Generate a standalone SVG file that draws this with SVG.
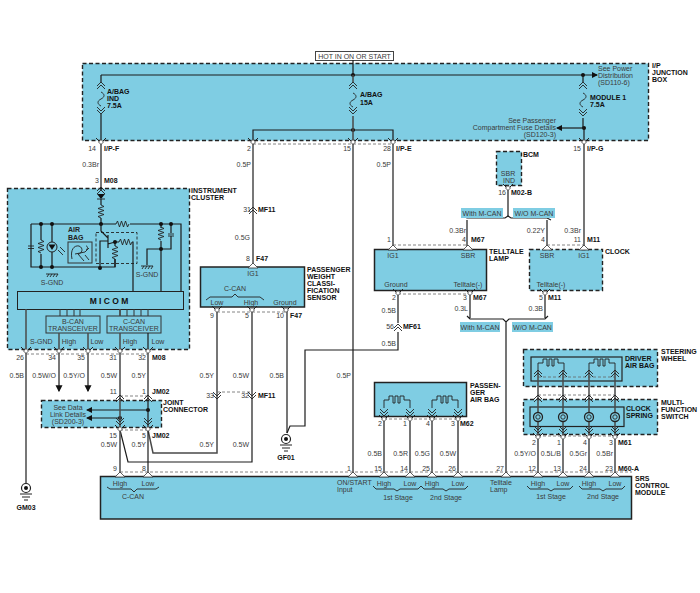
<svg xmlns="http://www.w3.org/2000/svg" width="700" height="593" viewBox="0 0 700 593">
<style>
text{font-family:"Liberation Sans",Arial,sans-serif;font-size:7px;fill:#3a3a3a}
.b{font-weight:bold;fill:#111}
.e{text-anchor:end}
.m{text-anchor:middle}
.box{fill:#7fcde3;stroke:#222;stroke-width:1.5}
.dbox{fill:#7fcde3;stroke:#222;stroke-width:1.4;stroke-dasharray:4 2.5}
.plain{fill:none;stroke:#333;stroke-width:1}
.w{fill:none;stroke:#1c1c1c;stroke-width:1.2}
.g{fill:none;stroke:#4a4a4a;stroke-width:1.5}
.d{fill:none;stroke:#666;stroke-width:.8;stroke-dasharray:3 2}
.sym{fill:none;stroke:#222;stroke-width:.9}
.lab{fill:#7fcde3}
</style>
<defs>
<g id="cu" class="sym"><path d="M-4,2 L0,-2 L4,2 M-4,5 L0,1 L4,5"/></g>
<g id="cd" class="sym"><path d="M-4,-5 L0,-1 L4,-5 M-4,-2 L0,2 L4,-2"/></g>
<g id="pb"><path d="M-5,-3 L0,2 L5,-3" fill="none" stroke="#222" stroke-width="1"/><path d="M-2.500,1 L0,-1.500 L2.500,1 L0,3.500 Z" fill="#fff" stroke="#333" stroke-width=".8"/></g>
<g id="pu"><path d="M-5,1 L0,-4 L5,1 Z" fill="#fff" stroke="#333" stroke-width=".8"/></g>
<path id="fuse" class="sym" d="M0,-7 c4,2 4,5 0,7 c-4,2 -4,5 0,7"/>
<path id="rv" class="sym" d="M0,-7 L3,-5.500 L-3,-3.500 L3,-1.500 L-3,.5 L3,2.500 L-3,4.500 L0,6"/>
<path id="rh" class="sym" d="M-7,0 L-5.500,-3 L-3.500,3 L-1.500,-3 L.5,3 L2.500,-3 L4.500,3 L6,0"/>
<path id="squib" class="sym" d="M0,0 V-8 H5 V-12 H9 V-5 H11 V-12 H14 V-5 H16 V-12 H20 V-8 H26 V0"/>
<circle id="dot" r="2" fill="#111"/>
<path id="sg" class="sym" d="M-6,0 H6 M-5,3 L-3,0 M-2,3 L0,0 M1,3 L3,0 M4,3 L6,0"/>
<g id="ground"><circle r="4.500" fill="#fff" stroke="#222" stroke-width="1.200"/><circle r="2" fill="#111"/><path d="M-6,6 H6 M-4,9 H4 M-2,12 H2" fill="none" stroke="#222" stroke-width="1"/></g>
<g id="coil" class="sym"><circle r="4.500" stroke-width="1.300"/><circle r="2.200"/></g>
<marker id="ar" viewBox="0 0 6 6" refX="5" refY="3" markerWidth="6" markerHeight="6" markerUnits="userSpaceOnUse" orient="auto"><path d="M0,0 L6,3 L0,6 Z" fill="#111"/></marker>
<marker id="arb" viewBox="0 0 6 6" refX="5" refY="3" markerWidth="7" markerHeight="8" markerUnits="userSpaceOnUse" orient="auto"><path d="M0,0 L6,3 L0,6 Z" fill="#111"/></marker>
</defs>

<g id="hot-label">
<rect x="315.500" y="51.500" width="78" height="9" fill="#fff" stroke="#444" stroke-width="1"/>
<text x="354.500" y="58.500" class="m">HOT IN ON OR START</text>
</g>

<g id="ip-junction-box">
<rect x="82.500" y="63.500" width="566" height="77" class="dbox"/>
<path class="w" d="M101,75 H592"/>
<use href="#dot" x="353" y="75"/><use href="#dot" x="583" y="75"/>
<path d="M592,75 H597" class="w" marker-end="url(#ar)"/>
<text x="598" y="70.500">See Power</text><text x="598" y="78">Distribution</text><text x="598" y="85">(SD110-6)</text>
<use href="#cu" x="101" y="84"/><use href="#fuse" x="101" y="99"/><use href="#cd" x="101" y="112"/>
<use href="#cu" x="353" y="84"/><use href="#fuse" x="353" y="100"/><use href="#cd" x="353" y="112"/>
<use href="#cu" x="583" y="84"/><use href="#fuse" x="583" y="100"/><use href="#cd" x="583" y="114"/>
<text x="107" y="93.500" class="b">A/BAG</text><text x="107" y="101" class="b">IND</text><text x="107" y="108" class="b">7.5A</text>
<text x="360" y="97" class="b">A/BAG</text><text x="360" y="104.500" class="b">15A</text>
<text x="590" y="99.500" class="b">MODULE 1</text><text x="590" y="106.500" class="b">7.5A</text>
<use href="#dot" x="584" y="128"/>
<path class="w" d="M584,128 H557" marker-end="url(#ar)"/>
<text x="556" y="123" class="e">See Passenger</text><text x="556" y="130" class="e">Compartment Fuse Details</text><text x="556" y="137" class="e">(SD120-3)</text>
<path class="w" d="M253,140 V130 H393 V140"/>
<use href="#dot" x="353" y="130"/>
<text x="652" y="67.500" class="b">I/P</text><text x="652" y="74.500" class="b">JUNCTION</text><text x="652" y="81.500" class="b">BOX</text>
</g>

<g id="instrument-cluster">
<rect x="7.500" y="188.500" width="182" height="161" class="dbox"/>
<path d="M97,194 H105 L101,199 Z" fill="#111"/><path class="sym" d="M97,199 H105"/>
<use href="#rv" x="101" y="212"/>
<path class="w" d="M101,199 V205 M101,218 V224 M31,224 H116 M130,224 H181 V291 M31,224 V267 H115 V259 M161,224 V228 M161,241 V291 M171,224 V233 M171,236 V249 H147 V265"/>
<use href="#rh" x="123" y="224"/>
<path class="sym" d="M28,246 H34 M28,248.500 H34"/>
<use href="#rv" x="41" y="247"/><path class="w" d="M41,224 V240 M41,254 V267 M52,224 V242 M52,252 V267"/>
<circle cx="52" cy="247" r="5" fill="none" stroke="#222"/><path d="M48.500,244.500 H55.500 L52,250 Z" fill="#111"/><path class="sym" d="M58,250 L63,255 M60,247 L65,252"/>
<use href="#rv" x="161" y="234"/><path class="sym" d="M168,234 H174 M168,236 H174"/>
<use href="#dot" x="41" y="224"/><use href="#dot" x="52" y="224"/><use href="#dot" x="101" y="224"/><use href="#dot" x="161" y="224"/><use href="#dot" x="171" y="224"/>
<use href="#dot" x="41" y="267"/><use href="#dot" x="52" y="267"/><use href="#dot" x="100" y="268"/><use href="#dot" x="161" y="249"/>
<use href="#sg" x="52" y="274"/><text x="52" y="285" class="m">S-GND</text>
<use href="#sg" x="147" y="266"/><text x="147" y="277" class="m">S-GND</text>
<text x="68" y="232" style="font-weight:bold;fill:#222">AIR</text><text x="68" y="239.500" style="font-weight:bold;fill:#222">BAG</text>
<rect x="68" y="242" width="24" height="21" fill="none" stroke="#333" stroke-width="1"/>
<path class="sym" d="M72,259 C70,250 74,245 79,246 C84,248 82,254 78,254 L84,261 M75,254 L85,252 L89,248 M86,246 C88,246 88,249 86,250 M85,255 L89,260"/>
<rect x="96" y="232.500" width="41" height="31" fill="none" stroke="#222" stroke-width=".9" stroke-dasharray="3 2"/>
<path class="w" d="M108,235 V248 M101,224 V231 L108,238 M108,244 L115,242 M108,241 H100 V268 M115,242 H119 M115,242 V246 M115,259 V267"/>
<use href="#dot" x="115" y="242"/>
<use href="#rv" x="115" y="253"/><use href="#rh" x="126" y="242"/>
<path class="w" d="M132,242 H133 V291"/>
<rect x="17.500" y="291.500" width="166" height="18" fill="#7fcde3" stroke="#222" stroke-width="1"/>
<text x="109" y="304" class="m" style="font-size:8.500px;font-weight:bold;fill:#111">M I C O M</text>
<path class="plain" d="M60,309 V316 M67,309 V316 M74,309 V316 M80,309 V316 M120,309 V316 M127,309 V316 M134,309 V316 M141,309 V316 M148,309 V316"/>
<rect x="46" y="316" width="54" height="17" fill="none" stroke="#333"/>
<rect x="107" y="316" width="54" height="17" fill="none" stroke="#333"/>
<text x="73" y="323.500" class="m">B-CAN</text><text x="73" y="331" class="m">TRANSCEIVER</text>
<text x="134" y="323.500" class="m">C-CAN</text><text x="134" y="331" class="m">TRANSCEIVER</text>
<text x="30" y="343.500">S-GND</text><text x="69" y="343.500" class="m">High</text><text x="97" y="343.500" class="m">Low</text><text x="130" y="343.500" class="m">High</text><text x="158" y="343.500" class="m">Low</text>
<text x="191" y="192.500" class="b">INSTRUMENT</text><text x="191" y="199.500" class="b">CLUSTER</text>
</g>

<g id="joint-connector">
<rect x="41.500" y="400.500" width="120" height="27" class="dbox"/>
<text x="68" y="409.500" class="m">See Data</text><text x="68" y="416.500" class="m">Link Details</text><text x="68" y="423.500" class="m">(SD200-3)</text>
<use href="#dot" x="148" y="410"/><use href="#dot" x="120" y="418"/>
<path class="w" d="M148,410 H87" marker-end="url(#ar)"/><path class="w" d="M120,418 H87" marker-end="url(#ar)"/>
<text x="163" y="404.500" class="b">JOINT</text><text x="163" y="412" class="b">CONNECTOR</text>
</g>

<g id="passenger-weight-sensor">
<rect x="200.500" y="267" width="104" height="40" class="box"/>
<text x="253" y="275.500" class="m">IG1</text><text x="235" y="291" class="m">C-CAN</text>
<path class="sym" d="M206,300 L210,297 H232 L235,294 L238,297 H260 L264,300"/>
<text x="217" y="304.500" class="m">Low</text><text x="251" y="304.500" class="m">High</text><text x="285" y="304.500" class="m">Ground</text>
<text x="307" y="272" class="b">PASSENGER</text><text x="307" y="279" class="b">WEIGHT</text><text x="307" y="286" class="b">CLASSI-</text><text x="307" y="293" class="b">FICATION</text><text x="307" y="300" class="b">SENSOR</text>
</g>

<g id="telltale-lamp">
<rect x="374.500" y="249.500" width="112" height="41" class="box"/>
<text x="393" y="257.500" class="m">IG1</text><text x="468" y="257.500" class="m">SBR</text><text x="396" y="287" class="m">Ground</text><text x="468" y="287" class="m">Telltale(-)</text>
<text x="489" y="254" class="b">TELLTALE</text><text x="489" y="261" class="b">LAMP</text>
</g>

<g id="clock">
<rect x="529.500" y="249.500" width="73" height="41" class="dbox"/>
<text x="547" y="257.500" class="m">SBR</text><text x="584" y="257.500" class="m">IG1</text><text x="551" y="287" class="m">Telltale(-)</text>
<text x="605" y="254" class="b">CLOCK</text>
</g>

<g id="bcm">
<rect x="496.500" y="151.500" width="25" height="34" class="dbox"/>
<text x="508" y="175.500" class="m">SBR</text><text x="509" y="182.500" class="m">IND</text>
<text x="523" y="156.500" class="b">BCM</text>
</g>

<g id="passenger-air-bag">
<rect x="374.500" y="382.500" width="92" height="34" class="box"/>
<use href="#squib" x="384" y="408"/><use href="#squib" x="432" y="408"/>
<text x="470" y="388" class="b">PASSEN-</text><text x="470" y="395" class="b">GER</text><text x="470" y="402" class="b">AIR BAG</text>
</g>

<g id="steering-wheel">
<rect x="523.500" y="349.500" width="134" height="37" class="dbox"/>
<rect x="531" y="357" width="91" height="24" fill="none" stroke="#222" stroke-width="1.200"/>
<use href="#squib" x="538" y="371"/><use href="#squib" x="589" y="371"/>
<path class="d" d="M538,377 H615"/>
<text x="625" y="360.500" class="b">DRIVER</text><text x="625" y="368" class="b">AIR BAG</text>
<text x="661" y="353.500" class="b">STEERING</text><text x="661" y="360.500" class="b">WHEEL</text>
</g>

<g id="multifunction-switch">
<rect x="523.500" y="399.500" width="134" height="35" class="dbox"/>
<rect x="530" y="407" width="94" height="19.500" fill="none" stroke="#222" stroke-width="1.200"/>
<text x="626" y="411" class="b">CLOCK</text><text x="626" y="418" class="b">SPRING</text>
<text x="661" y="404.500" class="b">MULTI-</text><text x="661" y="411.500" class="b">FUNCTION</text><text x="661" y="418.500" class="b">SWITCH</text>
</g>

<g id="srs-control-module">
<rect x="100.500" y="476.500" width="531" height="42.500" class="box"/>
<text x="120" y="485.500" class="m">High</text><text x="148" y="485.500" class="m">Low</text><text x="133" y="499" class="m">C-CAN</text>
<path class="sym" d="M107,487 L110,489 H131 L134,492 L137,489 H156 L159,487"/>
<text x="337" y="484.500">ON/START</text><text x="337" y="492">Input</text>
<text x="384" y="485.500" class="m">High</text><text x="410" y="485.500" class="m">Low</text><text x="432" y="485.500" class="m">High</text><text x="458" y="485.500" class="m">Low</text>
<path class="sym" d="M373,486 L376,489 H394 L397,491 L400,489 H418 L421,486 M421,486 L424,489 H443 L446,491 L449,489 H465 L468,486"/>
<text x="398" y="500" class="m">1st Stage</text><text x="446" y="500" class="m">2nd Stage</text>
<text x="490" y="484.500">Telltale</text><text x="490" y="492">Lamp</text>
<text x="538" y="485.500" class="m">High</text><text x="563" y="485.500" class="m">Low</text><text x="589" y="485.500" class="m">High</text><text x="615" y="485.500" class="m">Low</text>
<path class="sym" d="M527,486 L530,489 H548 L551,491 L554,489 H570 L573,486 M579,486 L582,489 H600 L603,491 L606,489 H622 L625,486"/>
<text x="551" y="499" class="m">1st Stage</text><text x="603" y="499" class="m">2nd Stage</text>
<text x="635" y="481" class="b">SRS</text><text x="635" y="488" class="b">CONTROL</text><text x="635" y="495" class="b">MODULE</text>
</g>

<g id="gm03"><use href="#ground" x="26" y="488"/><text x="26" y="509.500" class="m b">GM03</text></g>
<g id="gf01"><use href="#ground" x="286" y="439"/><text x="286" y="459.500" class="m b">GF01</text></g>

<g id="connectors">
<path class="d" d="M253,144 H393"/>
<path class="w" d="M353,60 V75 M101,75 V82 M101,114 V190"/>
<path class="g" d="M353,75 V82 M353,116 V473"/>
<path class="g" d="M253,140 V267"/>
<path class="w" d="M393,140 V249"/>
<path class="w" d="M583,75 V82 M583,118 V128 M584,128 V249"/>
<path class="w" d="M508,185 V217 M467,220 V249 M547,220 V249"/>
<path class="w" d="M463,216 L467,218 H505 L508,216 L511,218 H547 L551,220"/>
<path class="w" d="M398,290 V323 M398,332 V350 H305 V426 H290 L287,433"/>
<path class="w" d="M287,309 V433"/>
<path class="w" d="M470,290 V318 M545,290 V318 M467,316 L470,319 H503 L506,322 L509,319 H545 L548,316 M506,322 V473"/>
<path class="g" d="M217,309 V453 H153 L148,430"/>
<path class="w" d="M252,309 V462 H128 L120,430"/>
<path class="g" d="M26,309 V483"/>
<path class="g" d="M59,333 V391" marker-end="url(#arb)"/>
<path class="g" d="M88,333 V391" marker-end="url(#arb)"/>
<path class="g" d="M120,309 V316 M120,333 V476"/>
<path class="w" d="M148,333 V476"/>
<path class="g" d="M384,416 V473 M410,416 V473"/>
<path class="w" d="M432,416 V473 M458,416 V473"/>
<path class="g" d="M538,371 V412 M538,422 V473 M563,371 V412 M563,422 V473 M589,371 V412 M589,422 V473 M615,371 V412 M615,422 V473"/>
<path class="d" d="M26,354 H148 M120,396 H148 M120,430 H148 M120,472 H632 M217,312 H286 M217,392 H252 M398,294 H470 M393,245 H468 M547,245 H584 M384,419 H458 M538,395 H615 M538,436 H615"/>

<use href="#pb" x="101" y="141"/><use href="#pb" x="253" y="141"/><use href="#pb" x="353" y="141"/><use href="#pb" x="393" y="141"/><use href="#pb" x="584" y="141"/>
<use href="#cu" x="101" y="189"/><use href="#pu" x="253" y="267"/>
<use href="#pb" x="26" y="350"/><use href="#pb" x="59" y="350"/><use href="#pb" x="88" y="350"/><use href="#pb" x="120" y="350"/><use href="#pb" x="148" y="350"/>
<use href="#cu" x="120" y="397"/><use href="#cu" x="148" y="397"/><use href="#cd" x="120" y="423"/><use href="#cd" x="148" y="423"/>
<use href="#pb" x="120" y="428"/><use href="#pb" x="148" y="428"/>
<use href="#pu" x="120" y="476"/><use href="#pu" x="148" y="476"/><use href="#pu" x="353" y="476"/><use href="#pu" x="384" y="476"/><use href="#pu" x="410" y="476"/><use href="#pu" x="432" y="476"/><use href="#pu" x="458" y="476"/><use href="#pu" x="506" y="476"/><use href="#pu" x="538" y="476"/><use href="#pu" x="563" y="476"/><use href="#pu" x="589" y="476"/><use href="#pu" x="615" y="476"/>
<use href="#pb" x="217" y="309"/><use href="#pb" x="252" y="309"/><use href="#pb" x="286" y="309"/>
<use href="#cu" x="253" y="209"/><use href="#cd" x="217" y="397"/><use href="#cd" x="252" y="397"/><use href="#cu" x="398" y="326"/>
<use href="#pu" x="393" y="249"/><use href="#pu" x="468" y="249"/><use href="#pu" x="547" y="249"/><use href="#pu" x="584" y="249"/>
<use href="#pb" x="398" y="292"/><use href="#pb" x="470" y="292"/><use href="#pb" x="545" y="292"/><use href="#pb" x="508" y="187"/>
<use href="#cd" x="384" y="414"/><use href="#cd" x="410" y="414"/><use href="#cd" x="432" y="414"/><use href="#cd" x="458" y="414"/>
<use href="#pb" x="384" y="418"/><use href="#pb" x="410" y="418"/><use href="#pb" x="432" y="418"/><use href="#pb" x="458" y="418"/>
<use href="#cu" x="538" y="372"/><use href="#cu" x="563" y="372"/><use href="#cu" x="589" y="372"/><use href="#cu" x="615" y="372"/>
<use href="#cu" x="538" y="397"/><use href="#cu" x="563" y="397"/><use href="#cu" x="589" y="397"/><use href="#cu" x="615" y="397"/>
<use href="#cd" x="538" y="431"/><use href="#cd" x="563" y="431"/><use href="#cd" x="589" y="431"/><use href="#cd" x="615" y="431"/>
<use href="#pb" x="538" y="436"/><use href="#pb" x="563" y="436"/><use href="#pb" x="589" y="436"/><use href="#pb" x="615" y="436"/>
<use href="#coil" x="538" y="417"/><use href="#coil" x="563" y="417"/><use href="#coil" x="589" y="417"/><use href="#coil" x="615" y="417"/>

<rect x="461" y="208" width="42" height="10" class="lab"/><text x="482" y="215.500" class="m">With M-CAN</text>
<rect x="513" y="208" width="42" height="10" class="lab"/><text x="534" y="215.500" class="m">W/O M-CAN</text>
<rect x="460" y="322" width="40" height="10" class="lab"/><text x="480" y="329.500" class="m">With M-CAN</text>
<rect x="512" y="322" width="41" height="10" class="lab"/><text x="532.500" y="329.500" class="m">W/O M-CAN</text>

<text x="96" y="151" class="e">14</text><text x="104" y="151" class="b">I/P-F</text><text x="99" y="167" class="e">0.3Br</text><text x="99" y="183" class="e">3</text><text x="104" y="183" class="b">M08</text>
<text x="251" y="151" class="e">2</text><text x="251" y="167" class="e">0.5P</text><text x="351" y="151" class="e">15</text><text x="391" y="151" class="e">28</text><text x="396" y="151" class="b">I/P-E</text><text x="391" y="167" class="e">0.5P</text>
<text x="581" y="151" class="e">15</text><text x="587" y="151" class="b">I/P-G</text>
<text x="251" y="212" class="e">31</text><text x="258" y="212" class="b">MF11</text><text x="250" y="239.500" class="e">0.5G</text><text x="250" y="261" class="e">8</text><text x="256" y="261" class="b">F47</text>
<text x="214" y="318" class="e">9</text><text x="249" y="318" class="e">5</text><text x="284" y="318" class="e">10</text><text x="290" y="318" class="b">F47</text>
<text x="214" y="377.500" class="e">0.5Y</text><text x="249" y="377.500" class="e">0.5W</text><text x="284" y="377.500" class="e">0.5B</text><text x="351" y="377.500" class="e">0.5P</text>
<text x="214" y="398" class="e">33</text><text x="249" y="398" class="e">32</text><text x="258" y="398" class="b">MF11</text>
<text x="214" y="446.500" class="e">0.5Y</text><text x="249" y="446.500" class="e">0.5W</text>
<text x="24" y="360" class="e">26</text><text x="56" y="360" class="e">34</text><text x="85" y="360" class="e">35</text><text x="117" y="360" class="e">31</text><text x="146" y="360" class="e">32</text><text x="152" y="360" class="b">M08</text>
<text x="24" y="377.500" class="e">0.5B</text><text x="56" y="377.500" class="e">0.5W/O</text><text x="85" y="377.500" class="e">0.5Y/O</text><text x="117" y="377.500" class="e">0.5W</text><text x="146" y="377.500" class="e">0.5Y</text>
<text x="117" y="394" class="e">11</text><text x="146" y="394" class="e">1</text><text x="152" y="394" class="b">JM02</text>
<text x="117" y="437.500" class="e">15</text><text x="146" y="437.500" class="e">5</text><text x="152" y="437.500" class="b">JM02</text>
<text x="117" y="447" class="e">0.5W</text><text x="146" y="447" class="e">0.5Y</text><text x="117" y="470.500" class="e">9</text><text x="146" y="470.500" class="e">8</text>
<text x="351" y="470.500" class="e">1</text><text x="382" y="470.500" class="e">15</text><text x="408" y="470.500" class="e">14</text><text x="430" y="470.500" class="e">25</text><text x="456" y="470.500" class="e">26</text><text x="504" y="470.500" class="e">27</text>
<text x="382" y="426" class="e">2</text><text x="407" y="426" class="e">1</text><text x="430" y="426" class="e">4</text><text x="455" y="426" class="e">3</text><text x="460" y="426" class="b">M62</text>
<text x="382" y="456" class="e">0.5B</text><text x="408" y="456" class="e">0.5R</text><text x="430" y="456" class="e">0.5G</text><text x="456" y="456" class="e">0.5W</text>
<text x="536" y="444.500" class="e">2</text><text x="561" y="444.500" class="e">1</text><text x="587" y="444.500" class="e">4</text><text x="613" y="444.500" class="e">3</text><text x="618" y="444.500" class="b">M61</text>
<text x="536" y="456" class="e">0.5Y/O</text><text x="561" y="456" class="e">0.5L/B</text><text x="587" y="456" class="e">0.5Gr</text><text x="613" y="456" class="e">0.5Br</text>
<text x="536" y="470.500" class="e">12</text><text x="561" y="470.500" class="e">13</text><text x="587" y="470.500" class="e">24</text><text x="613" y="470.500" class="e">23</text><text x="618" y="470.500" class="b">M60-A</text>
<text x="506" y="194.500" class="e">16</text><text x="511" y="194.500" class="b">M02-B</text>
<text x="466" y="232.500" class="e">0.3Br</text><text x="545" y="232.500" class="e">0.22Y</text><text x="581" y="232.500" class="e">0.3Br</text>
<text x="391" y="242" class="e">1</text><text x="466" y="242" class="e">4</text><text x="471" y="242" class="b">M67</text><text x="545" y="242" class="e">4</text><text x="581" y="242" class="e">11</text><text x="587" y="242" class="b">M11</text>
<text x="396" y="300" class="e">2</text><text x="467" y="300" class="e">3</text><text x="473" y="300" class="b">M67</text><text x="543" y="300" class="e">5</text><text x="548" y="300" class="b">M11</text>
<text x="468" y="311" class="e">0.3L</text><text x="543" y="311" class="e">0.3B</text><text x="396" y="313" class="e">0.5B</text><text x="394" y="329" class="e">56</text><text x="403" y="329" class="b">MF61</text><text x="396" y="345.500" class="e">0.5B</text>
</g>
</svg>
